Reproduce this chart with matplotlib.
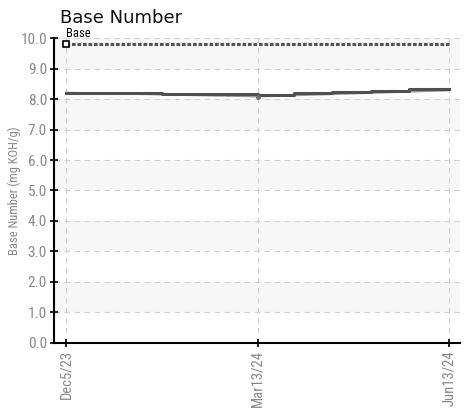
import matplotlib
matplotlib.use("Agg")
import matplotlib.pyplot as plt
from matplotlib import font_manager

# readings (equally spaced sample points)
tick_labels = ["Dec5/23", "Mar13/24", "Jun13/24"]
sample_pos = [0, 1, 2]
values = [8.21, 8.08, 8.28]

# trend drawn as steps
step_pos = [0, 0.5, 1.0, 1.19, 1.39, 1.59, 1.79, 2.0]
step_values = [8.20, 8.15, 8.13, 8.19, 8.24, 8.27, 8.33, 8.33]

base_value = 9.82

names = set(f.name for f in font_manager.fontManager.ttflist)
narrow = 'DejaVu Sans'
for n in ['Roboto Condensed', 'DejaVu Sans Condensed', 'Liberation Sans Narrow', 'Open Sans Condensed']:
    if n in names:
        narrow = n
        break

plt.rcParams['font.family'] = [narrow, 'DejaVu Sans']

fig = plt.figure(figsize=(4.69, 4.11), dpi=100)
ax = fig.add_axes([0.115, 0.1655, 0.866, 0.742])

ax.set_xlim(-0.063, 2.057)
ax.set_ylim(0, 10)

# alternating bands
for lo in [1, 3, 5, 7, 9]:
    ax.axhspan(lo, lo + 1, color='#f7f7f7', zorder=0, lw=0)

ax.grid(True, ls=(0, (5, 4)), color='#d0d0d0', lw=0.8, zorder=1)

ax.plot([sample_pos[0], sample_pos[-1]], [base_value, base_value], ls=(0, (1.2, 0.6)),
        color='#555555', lw=2.2, zorder=3)
ax.plot([sample_pos[0]], [base_value], marker='s', ms=4.5, mfc='white', mec='black',
        mew=1.2, zorder=5)
ax.text(sample_pos[0], base_value + 0.12, "Base", fontsize=9, color='black',
        ha='left', va='bottom', clip_on=False)

ax.plot(sample_pos, values, color='#9a9a9a', lw=1.3, zorder=3)
ax.plot(step_pos, step_values, color='#505050', lw=2.2, drawstyle='steps-post', zorder=4)
ax.plot([sample_pos[1]], [values[1]], marker='o', ms=2.5, color='#707070', zorder=4)

ax.set_xticks(sample_pos)
ax.set_xticklabels(tick_labels, rotation=90, color='#888888', fontsize=10.5)
ax.set_yticks([i for i in range(11)])
ax.set_yticklabels(["%.1f" % i for i in range(11)], color='#888888', fontsize=11)
ax.tick_params(direction='inout', length=6, width=1.2, color='black', pad=2)

ax.spines['top'].set_visible(False)
ax.spines['right'].set_visible(False)
ax.spines['left'].set_linewidth(1.5)
ax.spines['bottom'].set_linewidth(1.5)

ax.set_ylabel("Base Number (mg KOH/g)", color='#888888', fontsize=9, labelpad=0)
ax.yaxis.set_label_coords(-0.082, 0.5)
fig.text(0.128, 0.935, "Base Number", fontsize=13, family=['DejaVu Sans'],
         color='#111111', ha='left', va='bottom')

fig.savefig("out.png", dpi=100)
